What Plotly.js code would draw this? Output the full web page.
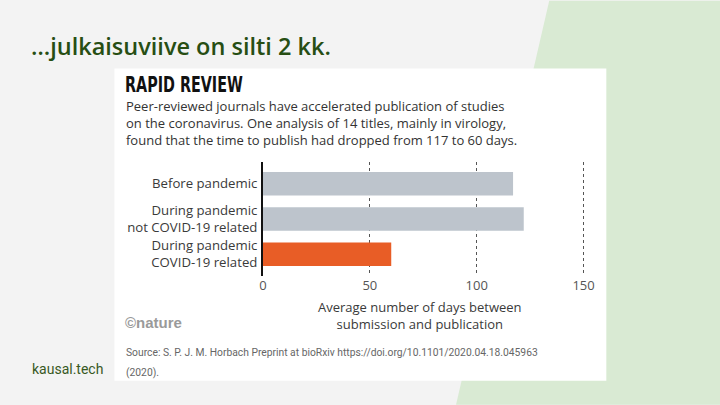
<!DOCTYPE html>
<html>
<head>
<meta charset="utf-8">
<script src="https://cdn.plot.ly/plotly-3.0.1.min.js"></script>
<style>html,body{margin:0;padding:0;background:#f3f3f3;}#chart{width:720px;height:405px;}</style>
</head>
<body>
<div id="chart"></div>
<script>
// Data
const categories = ["Before pandemic", "During pandemic<br>not COVID-19 related", "During pandemic<br>COVID-19 related"];
const days = [117, 122, 60];
const barColors = ["#bdc4cc", "#bdc4cc", "#e85d26"];
const tickValues = [0, 50, 100, 150];
const tickLabels = ["0", "50", "100", "150"];

const slideTitle = "…julkaisuviive on silti 2 kk.";
const chartTitle = "RAPID REVIEW";
const subtitleLines = [
  "Peer-reviewed journals have accelerated publication of studies",
  "on the coronavirus. One analysis of 14 titles, mainly in virology,",
  "found that the time to publish had dropped from 117 to 60 days."
];
const axisTitleLines = ["Average number of days between", "submission and publication"];
const sourceLines = ["Source: S. P. J. M. Horbach Preprint at bioRxiv https://doi.org/10.1101/2020.04.18.045963", "(2020)."];
const credit = "©nature";
const footer = "kausal.tech";

// Layout geometry (pixels)
const W = 720, H = 405;
const L = 263.3, R = 589.7, T = 161.7, B = 276;
const px = x => (x - L) / (R - L);
const py = y => (B - y) / (B - T);

const chartFont = "'Open Sans', Roboto, sans-serif";
const slideFont = "Roboto, sans-serif";

const annotations = [];
function addText(text, x, y, opts) {
  annotations.push(Object.assign({
    text: text, xref: 'paper', yref: 'paper', x: px(x), y: py(y),
    xanchor: 'left', yanchor: 'middle', showarrow: false, borderpad: 0, borderwidth: 0,
    font: {family: chartFont, size: 13, color: '#333'}
  }, opts || {}));
}

addText(slideTitle, 32, 45, {font: {family: "'Open Sans', sans-serif", size: 23.5, color: '#274e13', weight: 600}});
addText(footer, 33, 369, {font: {family: slideFont, size: 14, color: '#38591f'}});
addText(chartTitle, 126, 84, {font: {family: "'DejaVu Sans Condensed', 'DejaVu Sans', sans-serif", size: 21, color: '#111', weight: 700}});
addText(subtitleLines.join('<br>'), 127, 122.3, {align: 'left', font: {family: chartFont, size: 13, color: '#333'}});
addText(axisTitleLines.join('<br>'), 420.5, 315.5, {xanchor: 'center', align: 'center', font: {family: chartFont, size: 13, color: '#3a3a3a'}});
addText(credit, 126, 323, {font: {family: "'Liberation Sans', sans-serif", size: 15, color: '#9a9a9a', weight: 700}});
addText(sourceLines[0], 127, 353, {font: {family: slideFont, size: 10.3, color: '#666'}});
addText(sourceLines[1], 127, 372.5, {font: {family: slideFont, size: 10.3, color: '#666'}});

const shapes = [
  {type: 'path', xref: 'paper', yref: 'paper', layer: 'below',
   path: `M ${px(549)},${py(0)} L ${px(720)},${py(0)} L ${px(720)},${py(405)} L ${px(456)},${py(405)} Z`,
   fillcolor: '#d9ead3', line: {width: 0}},
  {type: 'rect', xref: 'paper', yref: 'paper', layer: 'below',
   x0: px(115), x1: px(606), y0: py(381), y1: py(68),
   fillcolor: '#ffffff', line: {width: 0}}
];

const trace = {
  type: 'bar', orientation: 'h',
  x: days, y: categories,
  marker: {color: barColors, line: {width: 0}},
  width: 0.665,
  hoverinfo: 'skip'
};

const layout = {
  width: W, height: H,
  margin: {l: L, r: W - R, t: T, b: H - B, pad: 0},
  paper_bgcolor: '#f3f3f3', plot_bgcolor: 'rgba(0,0,0,0)',
  showlegend: false,
  xaxis: {
    range: [0, 153], tickvals: tickValues, ticktext: tickLabels,
    showgrid: true, gridcolor: '#555', gridwidth: 1, griddash: 'dot',
    zeroline: false, showline: false, ticks: '', ticklen: 0,
    tickfont: {family: chartFont, size: 13, color: '#555'}, fixedrange: true
  },
  yaxis: {
    type: 'category', range: [2.62, -0.62],
    showgrid: false, zeroline: false,
    showline: true, linecolor: '#111', linewidth: 2,
    ticks: '', ticklabelstandoff: 1,
    tickfont: {family: chartFont, size: 13.2, color: '#3a3a3a'}, fixedrange: true
  },
  shapes: shapes,
  annotations: annotations
};

Plotly.newPlot('chart', [trace], layout, {staticPlot: true, displayModeBar: false}).then(gd => {
  // condense the heavy headline to match the narrow display face
  gd.querySelectorAll('.annotation-text').forEach(t => {
    if (t.textContent === chartTitle) {
      const bb = t.getBBox();
      const sx = 118 / bb.width;
      t.setAttribute('transform', `translate(${bb.x},0) scale(${sx},1) translate(${-bb.x},0)`);
    }
  });
});
</script>
</body>
</html>
